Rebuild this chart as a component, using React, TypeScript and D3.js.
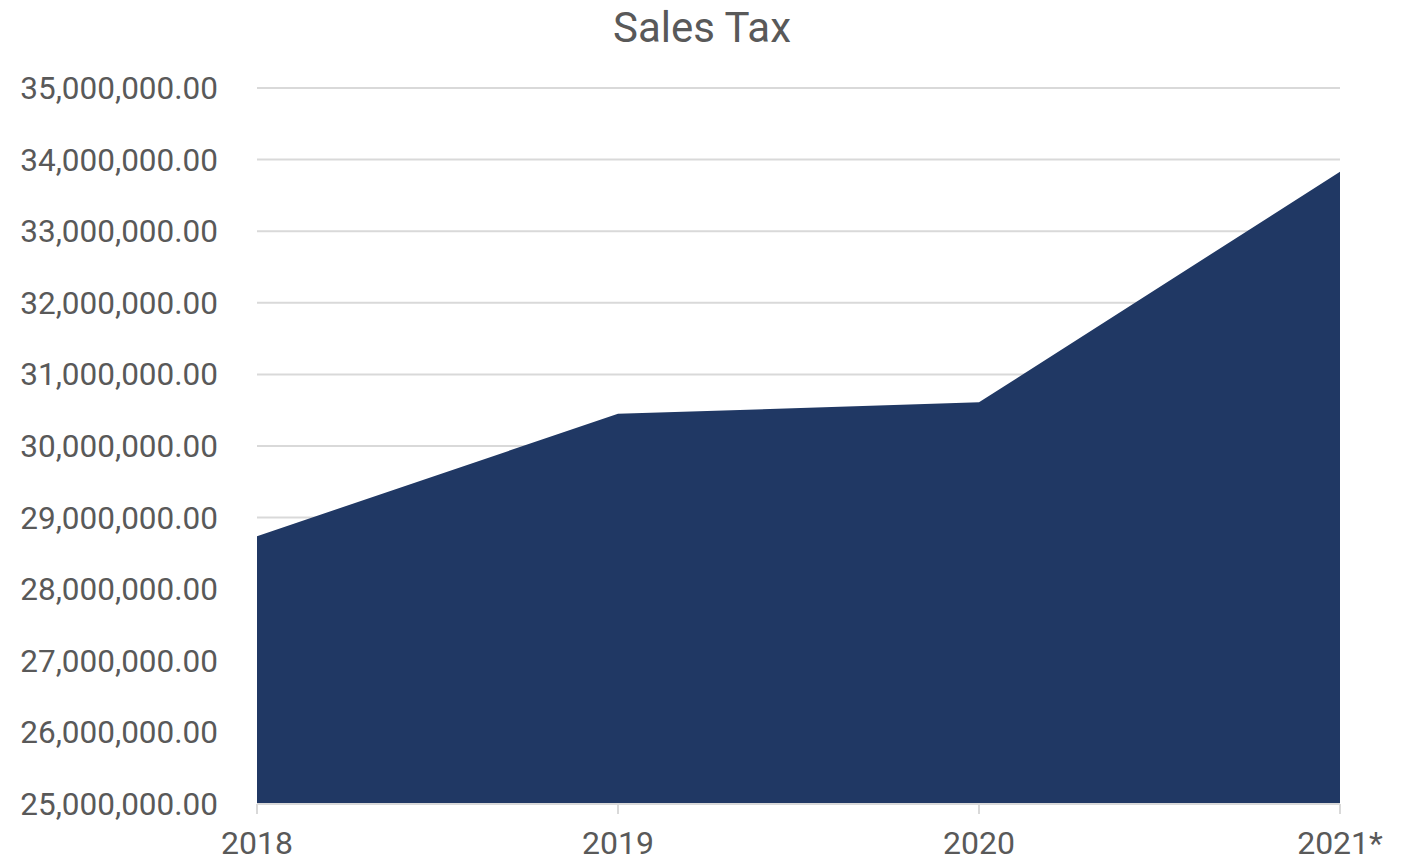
import { useEffect, useRef } from 'react';
import * as d3 from 'd3';

const title = 'Sales Tax';
const years = ['2018', '2019', '2020', '2021*'];
const salesTax = [28740000, 30450000, 30610000, 33830000];
const yTicks = [25000000, 26000000, 27000000, 28000000, 29000000, 30000000, 31000000, 32000000, 33000000, 34000000, 35000000];

export default function App() {
  const svgRef = useRef<SVGSVGElement>(null);

  useEffect(() => {
    if (!svgRef.current) return;
    const svg = d3.select(svgRef.current);
    svg.selectAll('*').remove();

    const width = 1401;
    const height = 861;
    const margin = { top: 88, right: 61, bottom: 57, left: 257 };
    const font = 'Roboto, sans-serif';
    const textColor = '#595959';

    const x = d3.scalePoint<string>()
      .domain(years)
      .range([margin.left, width - margin.right]);

    const y = d3.scaleLinear()
      .domain([25000000, 35000000])
      .range([height - margin.bottom, margin.top]);

    const fmt = d3.format(',.2f');

    // gridlines
    svg.append('g')
      .selectAll('line')
      .data(yTicks)
      .enter().append('line')
      .attr('x1', margin.left)
      .attr('x2', width - margin.right)
      .attr('y1', d => y(d))
      .attr('y2', d => y(d))
      .attr('stroke', '#d9d9d9')
      .attr('stroke-width', 2);

    // area
    const data = years.map((yr, i) => ({ yr, v: salesTax[i] }));
    const area = d3.area<{ yr: string; v: number }>()
      .x(d => x(d.yr)!)
      .y0(y(25000000))
      .y1(d => y(d.v));

    svg.append('path')
      .datum(data)
      .attr('d', area)
      .attr('fill', '#203864');

    // x axis line and ticks
    svg.append('line')
      .attr('x1', margin.left)
      .attr('x2', width - margin.right)
      .attr('y1', y(25000000))
      .attr('y2', y(25000000))
      .attr('stroke', '#d9d9d9')
      .attr('stroke-width', 2);

    svg.append('g')
      .selectAll('line')
      .data(years)
      .enter().append('line')
      .attr('x1', d => x(d)!)
      .attr('x2', d => x(d)!)
      .attr('y1', y(25000000))
      .attr('y2', y(25000000) + 10)
      .attr('stroke', '#d9d9d9')
      .attr('stroke-width', 2);

    // y labels
    svg.append('g')
      .selectAll('text')
      .data(yTicks)
      .enter().append('text')
      .attr('x', 218)
      .attr('y', d => y(d))
      .attr('dy', '0.35em')
      .attr('text-anchor', 'end')
      .attr('font-family', font)
      .attr('font-size', '31.5px')
      .attr('fill', textColor)
      .text(d => fmt(d));

    // x labels
    svg.append('g')
      .selectAll('text')
      .data(years)
      .enter().append('text')
      .attr('x', d => x(d)!)
      .attr('y', 854)
      .attr('text-anchor', 'middle')
      .attr('font-family', font)
      .attr('font-size', '32px')
      .attr('fill', textColor)
      .text(d => d);

    // title
    svg.append('text')
      .attr('x', 702)
      .attr('y', 42)
      .attr('text-anchor', 'middle')
      .attr('font-family', font)
      .attr('font-size', '42px')
      .attr('fill', textColor)
      .text(title);
  }, []);

  return (
    <svg
      ref={svgRef}
      width="1401"
      height="861"
      style={{ position: 'absolute', left: 0, top: 0, background: '#fff' }}
    />
  );
}
